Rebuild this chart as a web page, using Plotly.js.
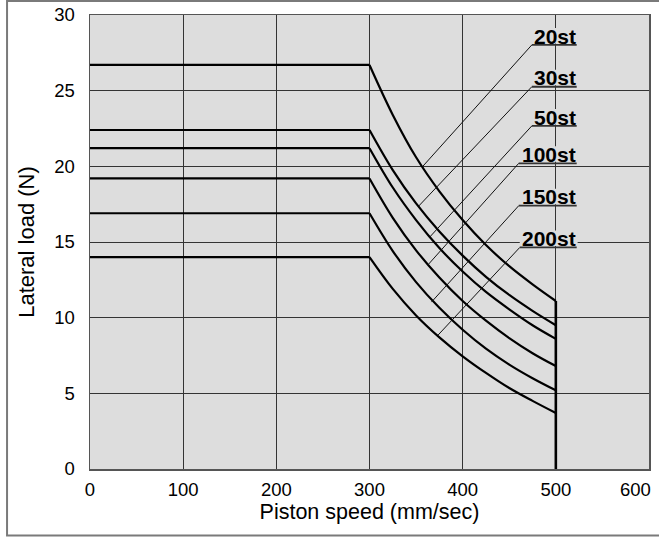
<!DOCTYPE html>
<html><head><meta charset="utf-8">
<script src="https://cdn.plot.ly/plotly-3.0.1.min.js"></script>
<style>html,body{margin:0;padding:0;background:#fff}#chart{width:659px;height:538px}</style>
</head><body><div id="chart"></div>
<script>
// ---- data ----
const strokes = ['20st', '30st', '50st', '100st', '150st', '200st'];
const speeds = [0, 300, 325, 350, 375, 400, 425, 450, 475, 500];
const load20  = [26.7, 26.7, 23.4, 20.6, 18.35, 16.45, 14.8, 13.4, 12.2, 11.1];
const load30  = [22.4, 22.4, 19.75, 17.55, 15.7, 14.1, 12.7, 11.5, 10.45, 9.5];
const load50  = [21.2, 21.2, 18.6, 16.45, 14.6, 13.05, 11.7, 10.55, 9.5, 8.6];
const load100 = [19.2, 19.2, 16.6, 14.45, 12.65, 11.1, 9.8, 8.65, 7.65, 6.8];
const load150 = [16.9, 16.9, 14.4, 12.35, 10.65, 9.2, 7.95, 6.9, 6.0, 5.2];
const load200 = [14.0, 14.0, 11.9, 10.15, 8.7, 7.45, 6.35, 5.35, 4.5, 3.7];
const xTicks = [0, 100, 200, 300, 400, 500, 600];
const xTickText = ['0', '100', '200', '300', '400', '500', ''];
const xLastTick = '600';
const yTicks = [0, 5, 10, 15, 20, 25, 30];
// points on each curve where the label leader lines end
const leaderSpeed = [357.2, 352.9, 364.7, 362.6, 366.5, 373.6];
const leaderLoad  = [20.0, 17.38, 15.33, 13.48, 11.03, 8.85];

// ---- label layout (positions, not data) ----
const labelUnderY = [28.02, 25.26, 22.67, 20.20, 17.40, 14.64];
const labelLeftX  = [474.2, 474.2, 474.2, 460.2, 460.2, 461.3];
const labelRightX = 522.4;

const loads = [load20, load30, load50, load100, load150, load200];
const traces = [];
loads.forEach((ld) => {
  traces.push({x: speeds.slice(0, 2), y: ld.slice(0, 2), mode: 'lines',
    line: {color: '#000', width: 2.2}, hoverinfo: 'skip'});
  traces.push({x: speeds.slice(1), y: ld.slice(1), mode: 'lines',
    line: {color: '#000', width: 2.2, shape: 'spline', smoothing: 1}, hoverinfo: 'skip'});
});
// vertical limit at max speed
traces.push({x: [speeds[speeds.length - 1], speeds[speeds.length - 1]], y: [0, load20[load20.length - 1]],
  mode: 'lines', line: {color: '#000', width: 2.6}, hoverinfo: 'skip'});
// leaders
strokes.forEach((s, i) => {
  traces.push({x: [labelLeftX[i], leaderSpeed[i]], y: [labelUnderY[i], leaderLoad[i]], mode: 'lines',
    line: {color: '#111', width: 1}, hoverinfo: 'skip'});
  traces.push({x: [labelLeftX[i], labelRightX], y: [labelUnderY[i], labelUnderY[i]], mode: 'lines',
    line: {color: '#333', width: 1.8}, hoverinfo: 'skip'});
});

const bg = '#dddddd';
const shapes = strokes.map((s, i) => ({
  type: 'rect', xref: 'x', yref: 'y', layer: 'between',
  x0: labelLeftX[i], x1: labelRightX + 1, y0: labelUnderY[i] + 0.1, y1: labelUnderY[i] + 1.12,
  fillcolor: bg, line: {width: 0}
}));
shapes.push({type: 'rect', xref: 'paper', yref: 'paper', layer: 'above',
  x0: -0.1484, x1: 1.04, y0: -0.1465, y1: 1.0308, line: {color: '#7a7a7a', width: 2}, fillcolor: 'rgba(0,0,0,0)'});

const font = {family: 'Liberation Sans, Arial, Helvetica, sans-serif', color: '#000'};
const annotations = strokes.map((s, i) => ({
  x: labelRightX, y: labelUnderY[i] + 0.58, xref: 'x', yref: 'y', xanchor: 'right', yanchor: 'middle',
  text: '<b>' + s + '</b>', showarrow: false, borderpad: 0,
  font: {family: font.family, size: 21, color: '#000'}
}));
// last x tick label, kept inside the frame as in the reference
annotations.push({x: xTicks[xTicks.length - 1], y: 0, xref: 'x', yref: 'paper', xanchor: 'right', yanchor: 'middle',
  xshift: 3, yshift: -20, text: xLastTick, showarrow: false, borderpad: 0,
  font: {family: font.family, size: 18.5, color: '#000'}});

const layout = {
  width: 659, height: 538, autosize: false,
  margin: {l: 90, r: 10, t: 15, b: 69, pad: 0},
  paper_bgcolor: '#fff', plot_bgcolor: bg, showlegend: false, font: font,
  xaxis: {range: [0, 600], tickvals: xTicks, ticktext: xTickText, showgrid: true, gridcolor: '#333', gridwidth: 1,
    zeroline: false, showline: true, linecolor: '#555', linewidth: 1.5, mirror: true, ticks: '',
    tickfont: {size: 18.5, family: font.family}, ticklabelstandoff: 3,
    title: {text: 'Piston speed (mm/sec)', font: {size: 21.5, family: font.family}, standoff: 2}, fixedrange: true},
  yaxis: {range: [0, 30], tickvals: yTicks, ticktext: yTicks.map(String), showgrid: true, gridcolor: '#333', gridwidth: 1,
    zeroline: false, showline: true, linecolor: '#555', linewidth: 1.5, mirror: true, ticks: '',
    tickfont: {size: 18.5, family: font.family}, ticklabelstandoff: 10,
    title: {text: 'Lateral load (N)', font: {size: 22, family: font.family}, standoff: 13}, fixedrange: true},
  shapes: shapes, annotations: annotations
};
Plotly.newPlot('chart', traces, layout, {displayModeBar: false, staticPlot: true});
</script></body></html>
